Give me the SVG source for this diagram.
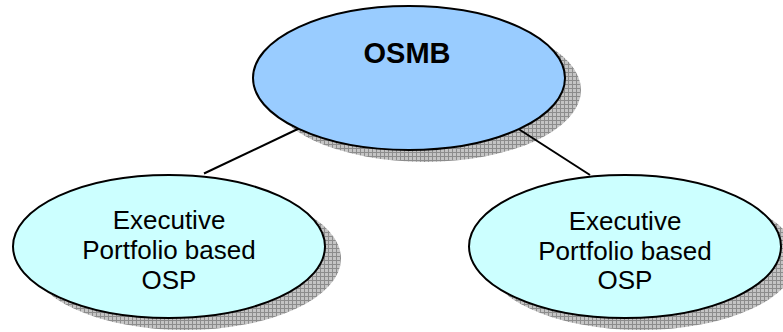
<svg xmlns="http://www.w3.org/2000/svg" width="783" height="332" viewBox="0 0 783 332">
  <defs>
    <!-- cross-hatched drop shadow fill -->
    <pattern id="hatch" width="4" height="4" patternUnits="userSpaceOnUse">
      <rect width="4" height="4" fill="#c4c4c4"/>
      <path d="M0 0.5H4M0.5 0V4" stroke="#8c8c8c" stroke-width="1" fill="none"/>
    </pattern>
  </defs>
  <style>
    .shadow { fill: url(#hatch); stroke: none; }
    .node { stroke: #000; stroke-width: 2; }
    .root { fill: #99ccff; }
    .child { fill: #ccffff; }
    .title { font-family: "Liberation Sans", Arial, sans-serif; font-weight: bold; font-size: 29px; fill: #000; text-anchor: middle; }
    .label { font-family: "Liberation Sans", Arial, sans-serif; font-size: 26px; fill: #000; text-anchor: middle; }
    .edge { stroke: #000; stroke-width: 2; fill: none; }
  </style>
  <rect width="783" height="332" fill="#fff"/>

  <!-- shadows sit beneath everything -->
  <g id="shadows">
    <ellipse class="shadow" cx="425" cy="90" rx="156" ry="72"/>
    <ellipse class="shadow" cx="185" cy="258.5" rx="156" ry="71.5"/>
    <ellipse class="shadow" cx="641" cy="258.5" rx="156" ry="71.5"/>
  </g>

  <g id="connectors">
    <line class="edge" x1="302" y1="127" x2="204" y2="173.5"/>
    <line class="edge" x1="517" y1="128" x2="590" y2="175"/>
  </g>

  <g id="osmb">
    <ellipse class="node root" cx="409" cy="78" rx="156" ry="72"/>
    <text class="title" x="407" y="63">OSMB</text>
  </g>

  <g id="osp-left">
    <ellipse class="node child" cx="169" cy="246.5" rx="156" ry="71.5"/>
    <text class="label" x="169" y="229">Executive</text>
    <text class="label" x="169" y="259">Portfolio based</text>
    <text class="label" x="169" y="289">OSP</text>
  </g>

  <g id="osp-right">
    <ellipse class="node child" cx="625" cy="246.5" rx="156" ry="71.5"/>
    <text class="label" x="625" y="230">Executive</text>
    <text class="label" x="625" y="260">Portfolio based</text>
    <text class="label" x="625" y="289">OSP</text>
  </g>
</svg>
